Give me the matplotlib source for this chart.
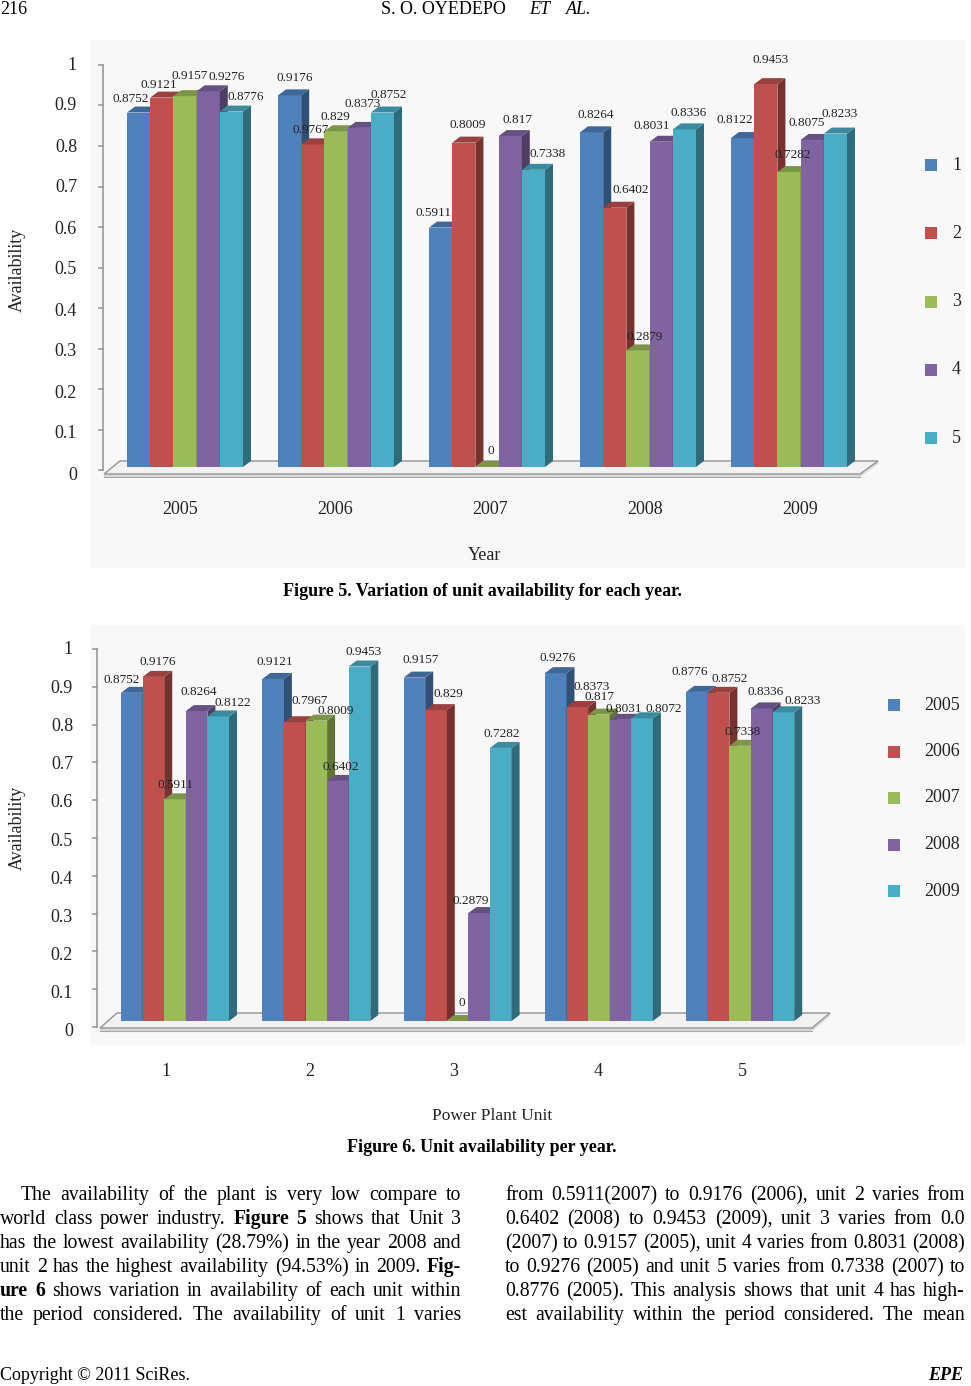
import numpy as np
import matplotlib
matplotlib.use("Agg")
import matplotlib.pyplot as plt
from matplotlib.patches import Polygon, Rectangle
from matplotlib.colors import to_rgb

plt.rcParams["font.family"] = ["Liberation Serif", "DejaVu Serif"]

W, H = 971, 1386

"""Data"""
years = ["2005", "2006", "2007", "2008", "2009"]
units = ["1", "2", "3", "4", "5"]
ytick_vals = [0, 0.1, 0.2, 0.3, 0.4, 0.5, 0.6, 0.7, 0.8, 0.9, 1]
ytick_labels = ["0", "0.1", "0.2", "0.3", "0.4", "0.5", "0.6", "0.7", "0.8", "0.9", "1"]

# figure 5: one row per year, one value per unit
fig5_vals = [
    [0.8752, 0.9121, 0.9157, 0.9276, 0.8776],
    [0.9176, 0.7967, 0.829, 0.8373, 0.8752],
    [0.5911, 0.8009, 0.0, 0.817, 0.7338],
    [0.8264, 0.6402, 0.2879, 0.8031, 0.8336],
    [0.8122, 0.9453, 0.7282, 0.8075, 0.8233],
]
# figure 6: one row per unit, one value per year
fig6_vals = [
    [0.8752, 0.9176, 0.5911, 0.8264, 0.8122],
    [0.9121, 0.7967, 0.8009, 0.6402, 0.9453],
    [0.9157, 0.829, 0.0, 0.2879, 0.7282],
    [0.9276, 0.8373, 0.817, 0.8031, 0.8072],
    [0.8776, 0.8752, 0.7338, 0.8336, 0.8233],
]
fig5_labels = [[f"{v:g}" for v in row] for row in fig5_vals]
fig5_labels[1][1] = "0.9767"   # printed like this in the paper
fig6_labels = [[f"{v:g}" for v in row] for row in fig6_vals]

colors = ["#4F81BD", "#C0504D", "#9BBB59", "#8064A2", "#4BACC6"]

# label nudges in pixels (right, down), the way excel spread them out
nudge5 = [
    [(-12, 1), (-7, 2), (1, -5), (14, 1), (10, 0)],
    [(1, -2), (-6, 1), (-5, 1), (-1, -9), (2, -3)],
    [(-11, 0), (0, -3), (0, -1), (3, -1), (10, -1)],
    [(0, -2), (12, -3), (3, 2), (-13, -1), (0, -1)],
    [(-12, -3), (1, -9), (0, -2), (-10, -2), (0, -5)],
]
nudge6 = [
    [(-14, 2), (0, 0), (-4, 1), (-2, -4), (11, 2)],
    [(-2, -2), (11, -6), (15, 5), (-1, 1), (0, 0)],
    [(2, -3), (8, -1), (0, -3), (-13, 3), (-3, 1)],
    [(-2, 0), (10, -5), (-3, -3), (-1, 4), (18, 6)],
    [(-11, -5), (7, 1), (-2, 1), (0, -1), (15, 4)],
]

TXT = "#222222"
fig = plt.figure(figsize=(W / 100, H / 100), dpi=100)

# page axes in pixel coords for the text and backgrounds
page = fig.add_axes([0, 0, 1, 1])
page.set_xlim(0, W)
page.set_ylim(H, 0)
page.axis("off")

page.add_patch(Rectangle((90, 40), 875, 528, fc="#f8f8f8", ec="none"))
page.add_patch(Rectangle((90, 625), 875, 420, fc="#f8f8f8", ec="none"))


def shade(c, f):
    r, g, b = to_rgb(c)
    return (r * f, g * f, b * f)


def chart_ax(top, bottom, base, ppu):
    ax = fig.add_axes([0, 1 - bottom / H, 1, (bottom - top) / H])
    ax.set_xlim(0, W)
    ax.set_ylim((base - bottom) / ppu, (base - top) / ppu)
    ax.axis("off")
    ax.patch.set_visible(False)
    return ax


def draw_chart(ax, vals, labels, nudge, x0, step, bw, base, ppu, floor, axis_x, tick_base, tick_ppu,
               lab_x, lab_base, lab_ppu, dx=8, dpx=6):
    dy = dpx / ppu
    px = lambda p: (base - p) / ppu
    # floor slab
    (fx0, fx1, fy), (bx0, bx1, by) = floor
    ax.add_patch(Polygon([(fx0, px(fy + 3)), (fx1, px(fy + 3)), (bx1, px(by + 3)), (bx1, px(by)),
                          (bx0, px(by)), (fx0, px(fy))], closed=True, fc="#d9d9d9", ec="none", zorder=1))
    ax.add_patch(Polygon([(fx0, px(fy)), (fx1, px(fy)), (bx1, px(by)), (bx0, px(by))],
                         closed=True, fc="#f2f2f2", ec="#9c9c9c", lw=1.1, zorder=1.5))
    ax.plot([fx0, fx1], [px(fy + 3), px(fy + 3)], color="#a8a8a8", lw=0.8, zorder=1.6)
    # value axis
    ty = [px(tick_base - tick_ppu * v) for v in ytick_vals]
    ax.plot([axis_x, axis_x], [ty[0], ty[-1]], color="#9a9a9a", lw=1.2, zorder=2)
    for t in ty:
        ax.plot([axis_x - 4, axis_x], [t, t], color="#9a9a9a", lw=1.2, zorder=2)
    for v, lab in zip(ytick_vals, ytick_labels):
        ax.text(lab_x, px(lab_base - lab_ppu * v), lab, ha="right", va="center",
                fontsize=13, color=TXT)
    # bars, drawn series by series so each bar covers the side of the one before
    n = len(vals)
    for k in range(len(vals[0])):
        xs = x0 + np.arange(n) * step + k * bw
        hs = [row[k] for row in vals]
        ax.bar(xs, hs, width=bw, align="edge", color=colors[k], edgecolor="none", zorder=3 + k)
        for x, v in zip(xs, hs):
            ax.add_patch(Polygon([(x + bw, 0), (x + bw + dx, dy), (x + bw + dx, v + dy), (x + bw, v)],
                                 closed=True, fc=shade(colors[k], 0.62), ec="none", zorder=3 + k))
            ax.add_patch(Polygon([(x, v), (x + dx, v + dy), (x + bw + dx, v + dy), (x + bw, v)],
                                 closed=True, fc=shade(colors[k], 0.8), ec="none", zorder=3 + k))
        for g, (x, v) in enumerate(zip(xs, hs)):
            nx, ny = nudge[g][k]
            ax.text(x + bw / 2 + dx / 2 + nx, v + dy + (3 - ny) / ppu, labels[g][k], ha="center",
                    va="bottom", fontsize=9.5, color=TXT, zorder=20)


"""Figure 5"""
ax1 = chart_ax(40, 575, 467, 405)
draw_chart(ax1, fig5_vals, fig5_labels, nudge5, 127, 151, 23.2, 467, 405,
           ((104, 860, 474), (120, 878, 461)), 103, 470, 405, 77, 475, 410)
for i, y in enumerate(years):
    page.text(180 + 155 * i, 509, y, ha="center", va="center", fontsize=13, color=TXT)
page.text(485, 555, "Year", ha="center", va="center", fontsize=13, color=TXT)
page.text(17, 270, "Availability", ha="center", va="center", rotation=90, fontsize=13, color=TXT)
for i, u in enumerate(units):
    y = 165 + 68.3 * i
    page.add_patch(Rectangle((925, y - 6), 12, 12, fc=colors[i], ec="none"))
    page.text(952, y, u, ha="left", va="center", fontsize=13, color=TXT)
page.text(482, 591, "Figure 5. Variation of unit availability for each year.", ha="center",
          va="center", fontsize=13, fontweight="bold")

"""Figure 6"""
ax2 = chart_ax(625, 1045, 1021, 375)
draw_chart(ax2, fig6_vals, fig6_labels, nudge6, 121, 141.3, 21.6, 1021, 375,
           ((100, 812, 1028), (117, 830, 1013)), 97, 1027, 378, 73, 1032, 382)
for i, u in enumerate(units):
    page.text(166 + 144 * i, 1072, u, ha="center", va="center", fontsize=13, color=TXT)
page.text(492, 1116, "Power Plant Unit", ha="center", va="center", fontsize=12.5, color=TXT)
page.text(17, 828, "Availability", ha="center", va="center", rotation=90, fontsize=13, color=TXT)
for i, y in enumerate(years):
    yy = 705 + 46.5 * i
    page.add_patch(Rectangle((888, yy - 6), 12, 12, fc=colors[i], ec="none"))
    page.text(924, yy, y, ha="left", va="center", fontsize=13, color=TXT)
page.text(482, 1148, "Figure 6. Unit availability per year.", ha="center",
          va="center", fontsize=13, fontweight="bold")

"""Header / footer"""
page.text(0, 10, "216", ha="left", va="center", fontsize=13)
page.text(381, 10, "S. O. OYEDEPO", ha="left", va="center", fontsize=13)
page.text(529, 10, "ET", ha="left", va="center", fontsize=13, style="italic")
page.text(566, 10, "AL.", ha="left", va="center", fontsize=13, style="italic")
page.text(0, 1376, "Copyright \u00a9 2011 SciRes.", ha="left", va="center", fontsize=13)
page.text(963, 1376, "EPE", ha="right", va="center", fontsize=13, style="italic", fontweight="bold")

"""Body text, justified"""
left_col = [
    "The availability of the plant is very low compare to",
    "world class power industry. *Figure* *5* shows that Unit 3",
    "has the lowest availability (28.79%) in the year 2008 and",
    "unit 2 has the highest availability (94.53%) in 2009. *Fig-*",
    "*ure* *6* shows variation in availability of each unit within",
    "the period considered. The availability of unit 1 varies",
]
right_col = [
    "from 0.5911(2007) to 0.9176 (2006), unit 2 varies from",
    "0.6402 (2008) to 0.9453 (2009), unit 3 varies from 0.0",
    "(2007) to 0.9157 (2005), unit 4 varies from 0.8031 (2008)",
    "to 0.9276 (2005) and unit 5 varies from 0.7338 (2007) to",
    "0.8776 (2005). This analysis shows that unit 4 has high-",
    "est availability within the period considered. The mean",
]

renderer = fig.canvas.get_renderer()


def justify(line, x0, x1, y, size=14.2):
    objs = []
    for w in line.split(" "):
        bold = w.startswith("*") and w.endswith("*")
        objs.append(page.text(0, y, w.strip("*"), fontsize=size, va="baseline", ha="left",
                              fontweight="bold" if bold else "normal"))
    widths = [t.get_window_extent(renderer).width for t in objs]
    gap = (x1 - x0 - sum(widths)) / max(len(objs) - 1, 1)
    x = x0
    for t, w in zip(objs, widths):
        t.set_x(x)
        x += w + gap


for i, line in enumerate(left_col):
    justify(line, 21 if i == 0 else 0, 461, 1200 + 24 * i)
for i, line in enumerate(right_col):
    justify(line, 505, 965, 1200 + 24 * i)

fig.savefig("out.png", dpi=100)
